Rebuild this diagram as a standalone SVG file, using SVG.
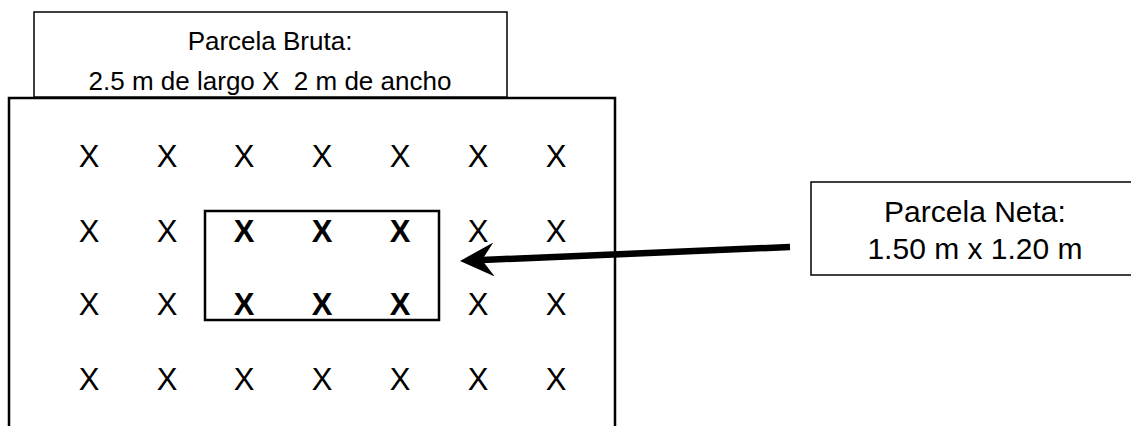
<svg xmlns="http://www.w3.org/2000/svg" width="1131" height="426" viewBox="0 0 1131 426">
  <style>
    .lbl { font-family: "Liberation Sans", Arial, sans-serif; fill: #000; text-anchor: middle; }
    .t { font-size: 26px; }
    .n { font-size: 30px; }
    .x { font-family: "Liberation Sans", Arial, sans-serif; font-size: 31px; fill: #000; text-anchor: middle; }
    .xb { font-weight: bold; }
    .box { fill: #fff; stroke: #000; stroke-width: 1.5; }
  </style>
  <defs>
    <clipPath id="titleClip"><rect x="34" y="12" width="473" height="83"/></clipPath>
    <marker id="stealth" viewBox="0 0 34 34" refX="12" refY="17" markerWidth="34" markerHeight="34" markerUnits="userSpaceOnUse" orient="auto">
      <path d="M34,17 L0,0 L12,17 L0,34 Z" fill="#000"/>
    </marker>
  </defs>

  <!-- gross plot outline (open at the bottom) -->
  <g id="parcela-bruta">
    <path d="M9,426 V98 H615 V426" fill="none" stroke="#000" stroke-width="2.5"/>
  </g>

  <!-- title box -->
  <g id="titulo">
    <rect class="box" x="34" y="12" width="473" height="85"/>
    <g clip-path="url(#titleClip)">
      <text class="lbl t" x="270" y="50">Parcela Bruta:</text>
      <text class="lbl t" x="270" y="90" xml:space="preserve">2.5 m de largo X  2 m de ancho</text>
    </g>
  </g>

  <!-- planting grid -->
  <g id="plantas">
    <g class="x">
      <text x="89" y="167">X</text><text x="167" y="167">X</text><text x="244" y="167">X</text><text x="322" y="167">X</text><text x="400" y="167">X</text><text x="478" y="167">X</text><text x="556" y="167">X</text>
      <text x="89" y="242">X</text><text x="167" y="242">X</text><text x="478" y="242">X</text><text x="556" y="242">X</text>
      <text x="89" y="315">X</text><text x="167" y="315">X</text><text x="478" y="315">X</text><text x="556" y="315">X</text>
      <text x="89" y="390">X</text><text x="167" y="390">X</text><text x="244" y="390">X</text><text x="322" y="390">X</text><text x="400" y="390">X</text><text x="478" y="390">X</text><text x="556" y="390">X</text>
    </g>
  </g>

  <!-- net plot -->
  <g id="parcela-neta">
    <rect x="205" y="211" width="234" height="109" fill="none" stroke="#000" stroke-width="2.5"/>
    <g class="x xb">
      <text x="244" y="242">X</text><text x="322" y="242">X</text><text x="400" y="242">X</text>
      <text x="244" y="315">X</text><text x="322" y="315">X</text><text x="400" y="315">X</text>
    </g>
  </g>

  <!-- net plot label -->
  <g id="etiqueta-neta">
    <rect class="box" x="811" y="182" width="330" height="93"/>
    <text class="lbl n" x="975" y="222">Parcela Neta:</text>
    <text class="lbl n" x="975" y="259">1.50 m x 1.20 m</text>
  </g>

  <!-- connectors -->
  <g id="conectores">
    <line x1="790" y1="247" x2="482" y2="260" stroke="#000" stroke-width="6.5" marker-end="url(#stealth)"/>
  </g>
</svg>
